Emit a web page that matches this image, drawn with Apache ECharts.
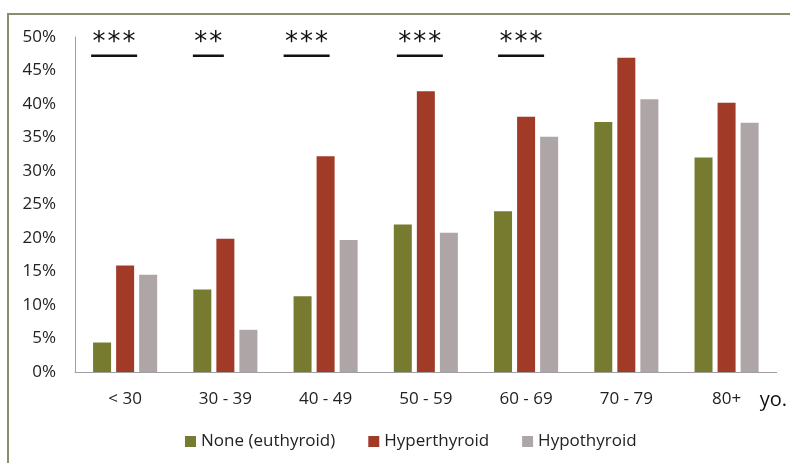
<!DOCTYPE html>
<html><head><meta charset="utf-8">
<script src="https://cdn.jsdelivr.net/npm/echarts@6/dist/echarts.min.js"></script>
<style>html,body{margin:0;padding:0;background:#fff}#c{width:790px;height:463px}</style>
</head><body><div id="c"></div>
<script>
const categories = ['< 30','30 - 39','40 - 49','50 - 59','60 - 69','70 - 79','80+'];
const euthyroid = [4.4, 12.3, 11.3, 22.0, 24.0, 37.3, 32.0];
const hyperthyroid = [15.9, 19.9, 32.2, 41.9, 38.1, 46.9, 40.2];
const hypothyroid = [14.5, 6.3, 19.7, 20.8, 35.1, 40.7, 37.2];
const significance = ['***','**','***','***','***','',''];
const yTicks = [0,5,10,15,20,25,30,35,40,45,50];

const FONT = 'Open Sans';
const sigOffsets = [-11, -17, -19, -6, -5, 0, 0];
const chart = echarts.init(document.getElementById('c'), null, {renderer:'canvas'});
const sigData = significance.map((s,i)=>[i, s]);
chart.setOption({
  animation:false,
  textStyle:{fontFamily:FONT},
  graphic:[{type:'rect',shape:{x:8,y:14,width:800,height:470},style:{fill:'none',stroke:'#8c8c6e',lineWidth:2},z:-1}],
  grid:{left:75,right:11,top:37,bottom:91,containLabel:false},
  legend:{bottom:8,left:180,itemWidth:11,itemHeight:11,itemGap:33,icon:'rect',
    textStyle:{fontSize:17,color:'#222',fontFamily:FONT},
    data:['None (euthyroid)','Hyperthyroid','Hypothyroid']},
  xAxis:{type:'category',data:categories,
    name:'yo.',nameLocation:'end',nameGap:-17,nameTextStyle:{fontSize:20,color:'#111',fontFamily:FONT,padding:[18,0,0,0],verticalAlign:'top'},
    axisLine:{lineStyle:{color:'#a0a0a0',width:1}},axisTick:{show:false},
    axisLabel:{fontSize:17,color:'#222',margin:19,fontFamily:FONT}},
  yAxis:{type:'value',min:0,max:50,interval:5,
    axisLine:{show:true,lineStyle:{color:'#a0a0a0',width:1}},axisTick:{show:false},splitLine:{show:false},
    axisLabel:{fontSize:17,color:'#222',margin:19,fontFamily:FONT,formatter:v=>yTicks.includes(v)?v+'%':''}},
  series:[
    {name:'None (euthyroid)',type:'bar',data:euthyroid,barWidth:18,barGap:'28%',itemStyle:{color:'#777b2f'}},
    {name:'Hyperthyroid',type:'bar',data:hyperthyroid,barWidth:18,barGap:'28%',itemStyle:{color:'#a13b28'}},
    {name:'Hypothyroid',type:'bar',data:hypothyroid,barWidth:18,barGap:'28%',itemStyle:{color:'#aea5a7'}},
    {type:'custom',data:sigData,silent:true,z:10,
      renderItem:function(params,api){
        const s = significance[params.dataIndex];
        if(!s) return null;
        const top = api.coord([api.value(0),50]);
        const ln = api.coord([api.value(0),47.2]);
        const cx = top[0]+sigOffsets[params.dataIndex];
        const n = s.length;
        const step = 15;
        const w = n===3?46:31;
        const children = [];
        for(let k=0;k<n;k++){
          children.push({type:'text',style:{text:'*',x:cx+(k-(n-1)/2)*step,y:top[1]+6,align:'center',verticalAlign:'middle',font:'26px "DejaVu Sans"',fill:'#111'}});
        }
        children.push({type:'line',shape:{x1:cx-w/2,y1:ln[1],x2:cx+w/2,y2:ln[1]},style:{stroke:'#111',lineWidth:2.5}});
        return {type:'group',children};
      }}
  ]
});
</script></body></html>
